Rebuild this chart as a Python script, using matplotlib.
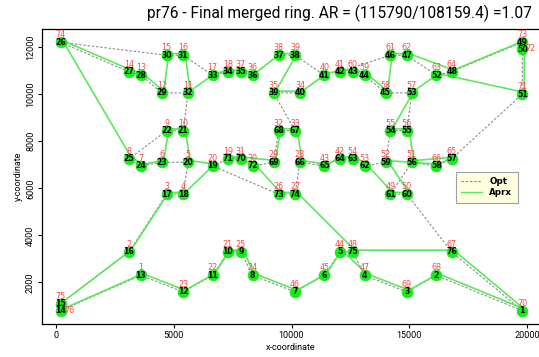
import numpy as np
import matplotlib
matplotlib.use("Agg")
import matplotlib.pyplot as plt
import matplotlib.transforms as mtransforms
from matplotlib.lines import Line2D

# ---- data (pr76 order) ----
red_ids = [1,2,3,4,5,6,7,8,9,10,11,12,13,14,15,16,17,18,19,20,21,22,23,
           24,25,26,27,28,29,30,31,32,33,34,35,36,37,38,39,40,41,42,43,44,45,46,
           47,48,49,50,51,52,53,54,55,56,57,58,59,60,61,62,63,64,65,66,67,68,69,
           70,71,72,73,74,75,76]
node_ids = [13,16,17,18,20,23,24,25,22,21,32,29,28,27,30,31,33,34,71,19,10,11,12,
            8,9,73,74,66,69,72,70,68,67,40,39,36,35,37,38,41,42,64,65,5,6,7,
            4,75,61,60,56,59,62,63,54,55,53,45,44,43,46,47,52,48,57,58,76,2,3,
            1,51,50,49,26,15,14]
x_vals = [3600,3100,4700,5400,5608,4493,3600,3100,4700,5400,5610,4492,3600,3100,4700,5400,6650,7300,7300,6650,7300,6650,5400,
          8350,7850,9450,10150,10358,9243,8350,7850,9450,10150,10360,9242,8350,7850,9450,10150,11400,12050,12050,11400,12050,11400,10150,
          13100,12600,14200,14900,15108,13993,13100,12600,14200,14900,15110,13992,13100,12600,14200,14900,16150,16800,16800,16150,16800,16150,14900,
          19800,19800,19800,19800,200,200,200]
y_vals = [2300,3300,5750,5750,7103,7102,6950,7250,8450,8450,10053,10052,10800,10950,11650,11650,10800,10950,7250,6950,3300,2300,1600,
          2300,3300,5750,5750,7103,7102,6950,7250,8450,8450,10053,10052,10800,10950,11650,11650,10800,10950,7250,6950,3300,2300,1600,
          2300,3300,5750,5750,7103,7102,6950,7250,8450,8450,10053,10052,10800,10950,11650,11650,10800,10950,7250,6950,3300,2300,1600,
          800,10000,11900,12200,12200,1100,800]

# tours, as sequences of node ids (black labels)
aprx_tour = [1,2,3,4,5,6,7,8,9,10,11,12,13,14,15,16,17,18,19,20,21,22,23,24,25,26,27,28,29,30,
             31,32,33,34,35,36,37,38,39,40,41,42,43,44,45,46,47,48,49,50,51,52,53,54,55,56,57,58,59,60,
             61,62,63,64,65,66,67,68,69,70,71,72,73,74,75,76]
opt_tour = [1,2,3,4,75,5,6,7,8,9,10,11,12,13,14,15,16,17,18,20,23,24,25,22,21,32,29,28,27,26,
            30,31,33,34,35,36,37,38,41,40,39,67,68,69,72,70,71,19,73,74,66,65,64,63,62,59,54,55,
            53,45,44,43,42,46,47,52,48,49,50,51,57,58,56,61,60,76]

title = "pr76 - Final merged ring. AR = (115790/108159.4) =1.07"

pos = {b: (x, y) for b, x, y in zip(node_ids, x_vals, y_vals)}

def tour_len(t):
    return sum(np.hypot(pos[t[i]][0] - pos[t[i - 1]][0], pos[t[i]][1] - pos[t[i - 1]][1])
               for i in range(len(t)))

# ---- figure ----
W, H = 539, 357
fig = plt.figure(figsize=(W / 100, H / 100), dpi=100)
left, right, top, bottom = 42, 541, 29, 324
ax = fig.add_axes([left / W, 1 - bottom / H, (right - left) / W, (bottom - top) / H])
ax.set_xlim(-595, 20595)
ax.set_ylim(235, 12765)

ox = [pos[b][0] for b in opt_tour + opt_tour[:1]]
oy = [pos[b][1] for b in opt_tour + opt_tour[:1]]
ax.plot(ox, oy, color="#8c8c8c", lw=0.8, ls=(0, (2.2, 1.6)), zorder=2)

shift = mtransforms.offset_copy(ax.transData, fig=fig, x=2.0, y=1.7, units="dots")
gx = [pos[b][0] for b in aprx_tour + aprx_tour[:1]]
gy = [pos[b][1] for b in aprx_tour + aprx_tour[:1]]
ax.plot(gx, gy, color="#5ee85e", lw=1.2, transform=shift, zorder=3)

ax.plot(x_vals, y_vals, "o", ms=7.8, color="#16ee16", mec="#22dd22", mew=0.5, zorder=4, ls="none")

red_special = {72: (8, 1), 76: (9, 0)}
for r, b, x, y in zip(red_ids, node_ids, x_vals, y_vals):
    ax.text(x, y, str(b), ha="center", va="center", fontsize=5.6, fontweight="bold",
            color="black", zorder=5, family="DejaVu Sans")
    dx, dy = red_special.get(r, (0, 7.5))
    ax.annotate(str(r), (x, y), xytext=(dx * 0.72, dy * 0.72), textcoords="offset points",
                ha="center", va="center", fontsize=5.8, color="#ff4646", zorder=5,
                family="DejaVu Sans")

ax.set_xticks([0, 5000, 10000, 15000, 20000])
ax.set_yticks([2000, 4000, 6000, 8000, 10000, 12000])
ax.tick_params(axis="both", direction="out", length=3, width=0.8, labelsize=6.5, pad=2)
for lab in ax.get_yticklabels():
    lab.set_rotation(90); lab.set_va("center")
for lab in ax.get_xticklabels() + ax.get_yticklabels():
    lab.set_family("Roboto")
for sp in ax.spines.values():
    sp.set_linewidth(0.9)

fig.text(291 / W, 1 - 348 / H, "x-coordinate", ha="center", va="center", fontsize=6.5, family="Roboto")
fig.text(18 / W, 1 - 176 / H, "y-coordinate", ha="center", va="center", rotation=90, fontsize=6.5, family="Roboto")
fig.text(339 / W, 1 - 13 / H, title, ha="center", va="center", fontsize=11.2, family="Roboto")

handles = [Line2D([], [], color="#8c8c8c", lw=0.8, ls=(0, (2.2, 1.6))),
           Line2D([], [], color="#5ee85e", lw=1.0)]
leg = fig.legend(handles, ["Opt", "Aprx"], loc="upper left",
                 bbox_to_anchor=(456 / W, 1 - 172 / H), bbox_transform=fig.transFigure,
                 prop={"size": 6.3, "weight": "bold", "family": "DejaVu Sans"},
                 frameon=True, fancybox=False, framealpha=1, borderaxespad=0,
                 handlelength=2.4, handletextpad=0.8, borderpad=0.6, labelspacing=0.25)
leg.get_frame().set_facecolor("#ffffe0")
leg.get_frame().set_edgecolor("#a0a0a0")
leg.get_frame().set_linewidth(0.8)

if sorted(opt_tour) != aprx_tour or abs(tour_len(opt_tour) - 108159.4) > 0.1:
    fig.text(0.1, 0.5, "CHECK %.1f %d" % (tour_len(opt_tour), len(set(opt_tour))),
             fontsize=8, color="blue", bbox=dict(fc="white"), zorder=10)

fig.savefig("out.png", dpi=100)
